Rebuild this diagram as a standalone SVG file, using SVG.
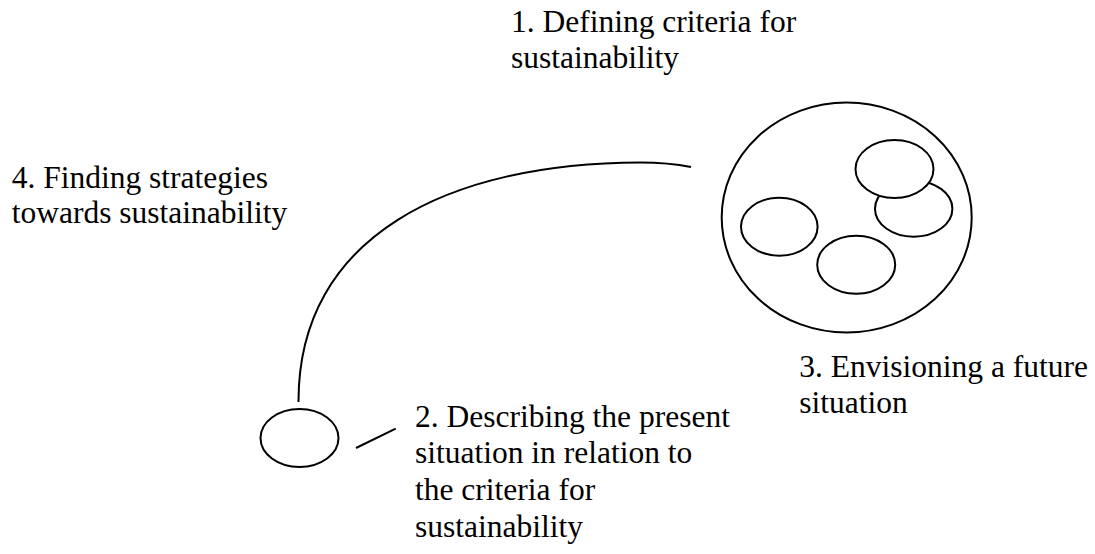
<svg xmlns="http://www.w3.org/2000/svg" width="1095" height="554" viewBox="0 0 1095 554">
<style>
.s{fill:#fff;stroke:#000;stroke-width:2}
.c{fill:none;stroke:#000;stroke-width:2}
text{font-family:"Liberation Serif","Times New Roman",serif;font-size:31.5px;fill:#000}
</style>
<rect width="1095" height="554" fill="#fff"/>
<g id="connectors">
<path class="c" d="M298.5,402 C298,235 450,163 640,162.5 C660,162.5 676,164 691,167"/>
<line class="c" x1="356" y1="448" x2="395.7" y2="428.7"/>
</g>
<g id="future">
<ellipse class="s" cx="846.7" cy="217.5" rx="125" ry="115"/>
<ellipse class="s" cx="913.7" cy="208.7" rx="38.7" ry="28"/>
<ellipse class="s" cx="894.5" cy="169" rx="39" ry="29"/>
<ellipse class="s" cx="779.3" cy="226.7" rx="38.3" ry="29"/>
<ellipse class="s" cx="856.2" cy="264.8" rx="39" ry="29"/>
</g>
<g id="present">
<ellipse class="s" cx="299.5" cy="438" rx="39" ry="29"/>
</g>
<g id="label1">
<text x="511" y="31.7">1. Defining criteria for</text>
<text x="511" y="68.3">sustainability</text>
</g>
<g id="label4">
<text x="11.7" y="187.7">4. Finding strategies</text>
<text x="11.7" y="223.3">towards sustainability</text>
</g>
<g id="label3">
<text x="799.3" y="376.7">3. Envisioning a future</text>
<text x="799.3" y="413.3">situation</text>
</g>
<g id="label2">
<text x="415" y="426.7">2. Describing the present</text>
<text x="415" y="463.3">situation in relation to</text>
<text x="415" y="500">the criteria for</text>
<text x="415" y="536.7">sustainability</text>
</g>
</svg>
